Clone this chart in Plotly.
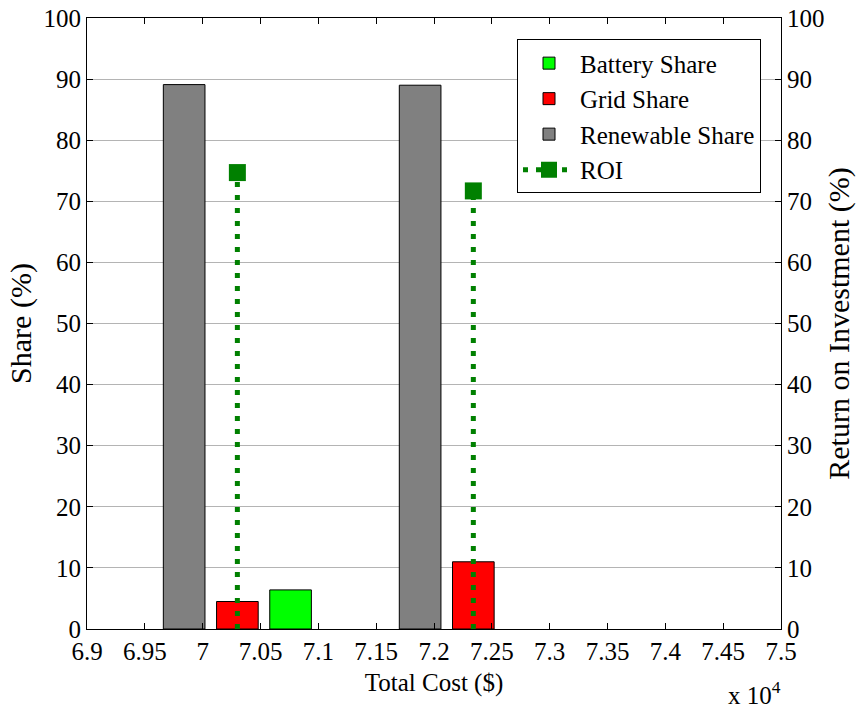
import plotly.graph_objects as go

# Total cost of each configuration (USD), bar group centres
total_cost = [70300, 72340]
renewable_share = [89.1, 89.0]
grid_share = [4.5, 11.0]
battery_share = [6.4, 0.0]
roi = [74.7, 71.7]

tick_vals = [69000 + 500 * i for i in range(13)]
tick_text = ["6.9", "6.95", "7", "7.05", "7.1", "7.15", "7.2", "7.25",
             "7.3", "7.35", "7.4", "7.45", "7.5"]
share_ticks = list(range(0, 101, 10))

FONT = "Liberation Serif"
BAR_W = 360
GAP = 460


def edge_widths(values):
    # no outline for empty bars
    return [1 if v > 0 else 0 for v in values]


def serif(size=25):
    return dict(family=FONT, size=size, color="black")


fig = go.Figure()

fig.add_trace(go.Bar(
    x=total_cost, y=renewable_share, name="Renewable Share",
    width=BAR_W, offset=-GAP - BAR_W / 2,
    marker=dict(color="#808080",
                line=dict(color="black", width=edge_widths(renewable_share))),
    legendrank=3,
))
fig.add_trace(go.Bar(
    x=total_cost, y=grid_share, name="Grid Share",
    width=BAR_W, offset=-BAR_W / 2,
    marker=dict(color="#ff0000",
                line=dict(color="black", width=edge_widths(grid_share))),
    legendrank=2,
))
fig.add_trace(go.Bar(
    x=total_cost, y=battery_share, name="Battery Share",
    width=BAR_W, offset=GAP - BAR_W / 2,
    marker=dict(color="#00ff00",
                line=dict(color="black", width=edge_widths(battery_share))),
    legendrank=1,
))

# ROI stems: dotted vertical lines from zero up to each value
stem_x, stem_y = [], []
for c, r in zip(total_cost, roi):
    stem_x += [c, c, None]
    stem_y += [0, r, None]
fig.add_trace(go.Scatter(
    x=stem_x, y=stem_y, mode="lines", yaxis="y2", showlegend=False,
    line=dict(color="#008000", width=5, dash="5px,8px"),
    hoverinfo="skip",
))

# ROI heads (also provides the legend entry)
head_x, head_y = [], []
for c, r in zip(total_cost, roi):
    head_x += [c, None]
    head_y += [r, None]
fig.add_trace(go.Scatter(
    x=head_x, y=head_y, mode="lines+markers", yaxis="y2", name="ROI",
    line=dict(color="#008000", width=5, dash="5px,8px"),
    marker=dict(symbol="square", size=17, color="#008000",
                line=dict(color="#008000", width=0)),
    legendrank=4,
))

fig.update_layout(
    width=856, height=709,
    margin=dict(l=87, r=75, t=18, b=80),
    paper_bgcolor="white", plot_bgcolor="white",
    font=serif(),
    barmode="overlay",
    showlegend=True,
    legend=dict(
        x=0.6196, y=0.965, xanchor="left", yanchor="top",
        bgcolor="white", bordercolor="black", borderwidth=1,
        font=serif(),
        tracegroupgap=0, itemwidth=52,
    ),
    xaxis=dict(
        range=[69000, 75000], tickmode="array",
        tickvals=tick_vals, ticktext=tick_text,
        ticks="inside", ticklen=6, tickcolor="black",
        showline=True, linecolor="black", linewidth=1, mirror="ticks",
        showgrid=False, zeroline=False, automargin=False,
        title=dict(text="Total Cost ($)", standoff=9, font=serif()),
        tickfont=serif(),
    ),
    yaxis=dict(
        range=[0, 100], tickmode="array", tickvals=share_ticks,
        ticks="inside", ticklen=6, tickcolor="black",
        showline=True, linecolor="black", linewidth=1,
        showgrid=True, gridcolor="#b4b4b4", gridwidth=1,
        zeroline=False, automargin=False,
        title=dict(text="Share (%)", standoff=3, font=serif(30)),
        tickfont=serif(),
    ),
    yaxis2=dict(
        range=[0, 100], tickmode="array", tickvals=share_ticks,
        overlaying="y", side="right",
        ticks="inside", ticklen=6, tickcolor="black",
        showline=True, linecolor="black", linewidth=1,
        showgrid=False, zeroline=False, automargin=False,
        title=dict(text="Return on Investment (%)", standoff=7,
                   font=serif(30)),
        tickfont=serif(),
    ),
    annotations=[dict(
        text="x 10<sup>4</sup>", xref="paper", yref="paper",
        x=1.003, y=-0.075, xanchor="right", yanchor="top",
        showarrow=False, font=serif(),
    )],
)

fig.write_html("out.html")
